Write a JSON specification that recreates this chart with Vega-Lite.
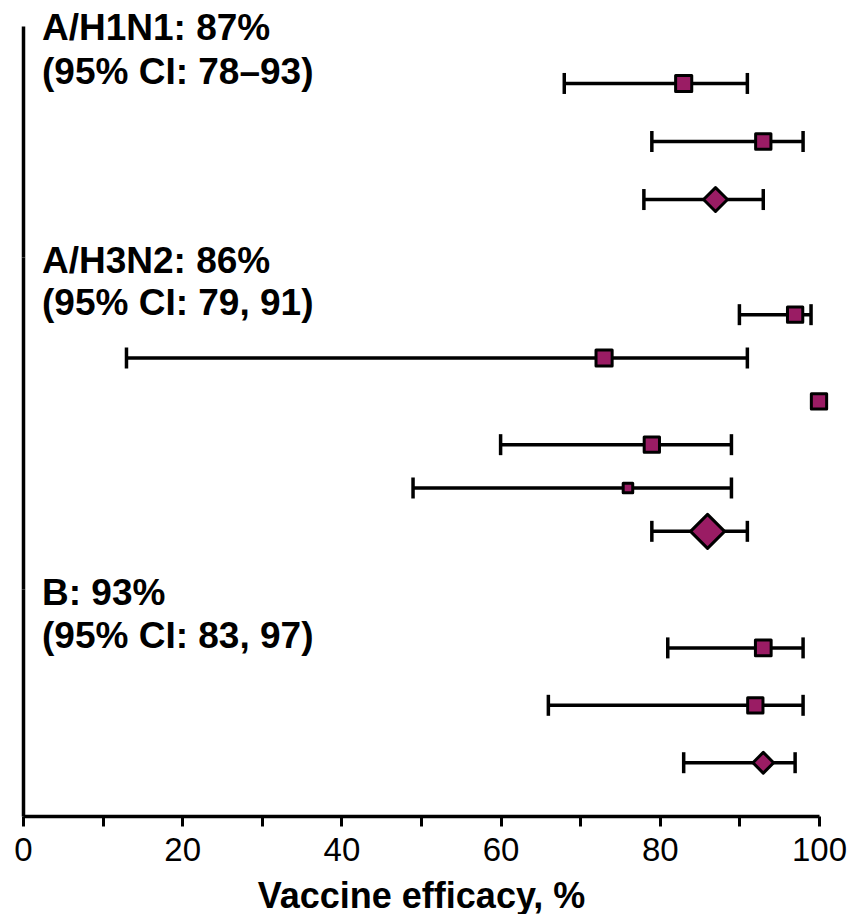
{
  "$schema": "https://vega.github.io/schema/vega-lite/v6.json",
  "padding": {"left": 13, "top": 10, "right": 0, "bottom": 0},
  "spacing": 0,
  "bounds": "flush",
  "config": {
    "view": {"stroke": null},
    "font": "Liberation Sans",
    "axis": {"grid": false}
  },
  "datasets": {
    "rows": [
      {"g": "H1", "id": "H1a", "est": 83, "lo": 68, "hi": 91, "type": "study", "w": 20},
      {"g": "H1", "id": "H1b", "est": 93, "lo": 79, "hi": 98, "type": "study", "w": 18},
      {"g": "H1", "id": "H1p", "est": 87, "lo": 78, "hi": 93, "type": "pooled", "w": 44},
      {"g": "H3", "id": "H3a", "est": 97, "lo": 90, "hi": 99, "type": "study", "w": 18},
      {"g": "H3", "id": "H3b", "est": 73, "lo": 13, "hi": 91, "type": "study", "w": 20},
      {"g": "H3", "id": "H3c", "est": 100, "lo": null, "hi": null, "type": "study", "w": 18},
      {"g": "H3", "id": "H3d", "est": 79, "lo": 60, "hi": 89, "type": "study", "w": 18},
      {"g": "H3", "id": "H3e", "est": 76, "lo": 49, "hi": 89, "type": "study", "w": 7},
      {"g": "H3", "id": "H3p", "est": 86, "lo": 79, "hi": 91, "type": "pooled", "w": 89},
      {"g": "B", "id": "Ba", "est": 93, "lo": 81, "hi": 98, "type": "study", "w": 19},
      {"g": "B", "id": "Bb", "est": 92, "lo": 66, "hi": 98, "type": "study", "w": 18},
      {"g": "B", "id": "Bp", "est": 93, "lo": 83, "hi": 97, "type": "pooled", "w": 33}
    ],
    "labels": [
      {"g": "H1", "first": "H1a", "label": "A/H1N1: 87%\n(95% CI: 78–93)"},
      {"g": "H3", "first": "H3a", "label": "A/H3N2: 86%\n(95% CI: 79, 91)"},
      {"g": "B", "first": "Ba", "label": "B: 93%\n(95% CI: 83, 97)"}
    ]
  },
  "vconcat": [
    {
      "width": 796,
      "height": 231,
      "layer": [
        {
          "data": {"name": "rows"},
          "transform": [{"filter": "datum.g === 'H1'"}],
          "mark": {"type": "rule", "strokeWidth": 3.5, "color": "black"},
          "encoding": {
            "x": {"field": "lo", "type": "quantitative", "scale": {"domain": [0, 100], "nice": false}, "axis": null},
            "x2": {"field": "hi"},
            "y": {"field": "id", "type": "nominal", "scale": {"type": "point", "domain": ["H1a", "H1b", "H1p"], "padding": 0.99},
                  "axis": {"domain": true, "domainColor": "black", "domainWidth": 3.5, "ticks": false, "labels": false, "title": null}}
          }
        },
        {
          "data": {"name": "rows"},
          "transform": [{"filter": "datum.g === 'H1'"}],
          "mark": {"type": "tick", "thickness": 3.5, "size": 21, "color": "black", "opacity": 1},
          "encoding": {"x": {"field": "lo", "type": "quantitative"}, "y": {"field": "id", "type": "nominal"}}
        },
        {
          "data": {"name": "rows"},
          "transform": [{"filter": "datum.g === 'H1'"}],
          "mark": {"type": "tick", "thickness": 3.5, "size": 21, "color": "black", "opacity": 1},
          "encoding": {"x": {"field": "hi", "type": "quantitative"}, "y": {"field": "id", "type": "nominal"}}
        },
        {
          "data": {"name": "rows"},
          "transform": [{"filter": "datum.g === 'H1'"}],
          "mark": {"type": "point", "filled": true, "fill": "#9A1C64", "stroke": "black", "strokeWidth": 3, "strokeJoin": "round", "opacity": 1},
          "encoding": {
            "x": {"field": "est", "type": "quantitative"},
            "y": {"field": "id", "type": "nominal"},
            "shape": {"field": "type", "type": "nominal", "scale": {"domain": ["study", "pooled"], "range": ["square", "diamond"]}, "legend": null},
            "size": {"field": "w", "type": "quantitative", "scale": {"domain": [0, 100], "range": [0, 1300]}, "legend": null}
          }
        },
        {
          "data": {"name": "labels"},
          "transform": [{"filter": "datum.g === 'H1'"}],
          "mark": {"type": "text", "align": "left", "baseline": "alphabetic", "dx": 19, "dy": -43, "fontSize": 37, "fontWeight": "bold", "lineHeight": 44, "lineBreak": "\n", "color": "black"},
          "encoding": {
            "x": {"datum": 0, "type": "quantitative"},
            "y": {"field": "first", "type": "nominal"},
            "text": {"field": "label"}
          }
        }
      ]
    },
    {
      "width": 796,
      "height": 332,
      "layer": [
        {
          "data": {"name": "rows"},
          "transform": [{"filter": "datum.g === 'H3'"}],
          "mark": {"type": "rule", "strokeWidth": 3.5, "color": "black"},
          "encoding": {
            "x": {"field": "lo", "type": "quantitative", "scale": {"domain": [0, 100], "nice": false}, "axis": null},
            "x2": {"field": "hi"},
            "y": {"field": "id", "type": "nominal", "scale": {"type": "band", "domain": ["H3a", "H3b", "H3c", "H3d", "H3e", "H3p"], "paddingInner": 0, "paddingOuter": 0.831},
                  "axis": {"domain": true, "domainColor": "black", "domainWidth": 3.5, "ticks": false, "labels": false, "title": null}}
          }
        },
        {
          "data": {"name": "rows"},
          "transform": [{"filter": "datum.g === 'H3'"}],
          "mark": {"type": "tick", "thickness": 3.5, "size": 21, "color": "black", "opacity": 1},
          "encoding": {"x": {"field": "lo", "type": "quantitative"}, "y": {"field": "id", "type": "nominal"}}
        },
        {
          "data": {"name": "rows"},
          "transform": [{"filter": "datum.g === 'H3'"}],
          "mark": {"type": "tick", "thickness": 3.5, "size": 21, "color": "black", "opacity": 1},
          "encoding": {"x": {"field": "hi", "type": "quantitative"}, "y": {"field": "id", "type": "nominal"}}
        },
        {
          "data": {"name": "rows"},
          "transform": [{"filter": "datum.g === 'H3'"}],
          "mark": {"type": "point", "filled": true, "fill": "#9A1C64", "stroke": "black", "strokeWidth": 3, "strokeJoin": "round", "opacity": 1},
          "encoding": {
            "x": {"field": "est", "type": "quantitative"},
            "y": {"field": "id", "type": "nominal"},
            "shape": {"field": "type", "type": "nominal", "scale": {"domain": ["study", "pooled"], "range": ["square", "diamond"]}, "legend": null},
            "size": {"field": "w", "type": "quantitative", "scale": {"domain": [0, 100], "range": [0, 1300]}, "legend": null}
          }
        },
        {
          "data": {"name": "labels"},
          "transform": [{"filter": "datum.g === 'H3'"}],
          "mark": {"type": "text", "align": "left", "baseline": "alphabetic", "dx": 19, "dy": -42, "fontSize": 37, "fontWeight": "bold", "lineHeight": 42, "lineBreak": "\n", "color": "black"},
          "encoding": {
            "x": {"datum": 0, "type": "quantitative"},
            "y": {"field": "first", "type": "nominal"},
            "text": {"field": "label"}
          }
        }
      ]
    },
    {
      "width": 796,
      "height": 227,
      "layer": [
        {
          "data": {"name": "rows"},
          "transform": [{"filter": "datum.g === 'B'"}],
          "mark": {"type": "rule", "strokeWidth": 3.5, "color": "black"},
          "encoding": {
            "x": {"field": "lo", "type": "quantitative", "scale": {"domain": [0, 100], "nice": false},
                  "axis": {"values": [0, 5, 10, 15, 20, 25, 30, 35, 40, 45, 50, 55, 60, 65, 70, 75, 80, 85, 90, 95, 100],
                           "labelExpr": "datum.value % 20 === 0 ? datum.label : ''",
                           "domainColor": "black", "domainWidth": 3.5, "tickColor": "black", "tickWidth": 3, "tickSize": 10,
                           "labelFontSize": 33, "labelColor": "black", "labelPadding": 8, "labelFlush": false, "labelOverlap": false,
                           "title": "Vaccine efficacy, %", "titleFontSize": 36, "titleFontWeight": "bold", "titleColor": "black", "titlePadding": 12}},
            "x2": {"field": "hi"},
            "y": {"field": "id", "type": "nominal", "scale": {"type": "point", "domain": ["Ba", "Bb", "Bp"], "padding": 0.977, "align": 0.525},
                  "axis": {"domain": true, "domainColor": "black", "domainWidth": 3.5, "ticks": false, "labels": false, "title": null}}
          }
        },
        {
          "data": {"name": "rows"},
          "transform": [{"filter": "datum.g === 'B'"}],
          "mark": {"type": "tick", "thickness": 3.5, "size": 21, "color": "black", "opacity": 1},
          "encoding": {"x": {"field": "lo", "type": "quantitative"}, "y": {"field": "id", "type": "nominal"}}
        },
        {
          "data": {"name": "rows"},
          "transform": [{"filter": "datum.g === 'B'"}],
          "mark": {"type": "tick", "thickness": 3.5, "size": 21, "color": "black", "opacity": 1},
          "encoding": {"x": {"field": "hi", "type": "quantitative"}, "y": {"field": "id", "type": "nominal"}}
        },
        {
          "data": {"name": "rows"},
          "transform": [{"filter": "datum.g === 'B'"}],
          "mark": {"type": "point", "filled": true, "fill": "#9A1C64", "stroke": "black", "strokeWidth": 3, "strokeJoin": "round", "opacity": 1},
          "encoding": {
            "x": {"field": "est", "type": "quantitative"},
            "y": {"field": "id", "type": "nominal"},
            "shape": {"field": "type", "type": "nominal", "scale": {"domain": ["study", "pooled"], "range": ["square", "diamond"]}, "legend": null},
            "size": {"field": "w", "type": "quantitative", "scale": {"domain": [0, 100], "range": [0, 1300]}, "legend": null}
          }
        },
        {
          "data": {"name": "labels"},
          "transform": [{"filter": "datum.g === 'B'"}],
          "mark": {"type": "text", "align": "left", "baseline": "alphabetic", "dx": 19, "dy": -43, "fontSize": 37, "fontWeight": "bold", "lineHeight": 43, "lineBreak": "\n", "color": "black"},
          "encoding": {
            "x": {"datum": 0, "type": "quantitative"},
            "y": {"field": "first", "type": "nominal"},
            "text": {"field": "label"}
          }
        }
      ]
    }
  ]
}
